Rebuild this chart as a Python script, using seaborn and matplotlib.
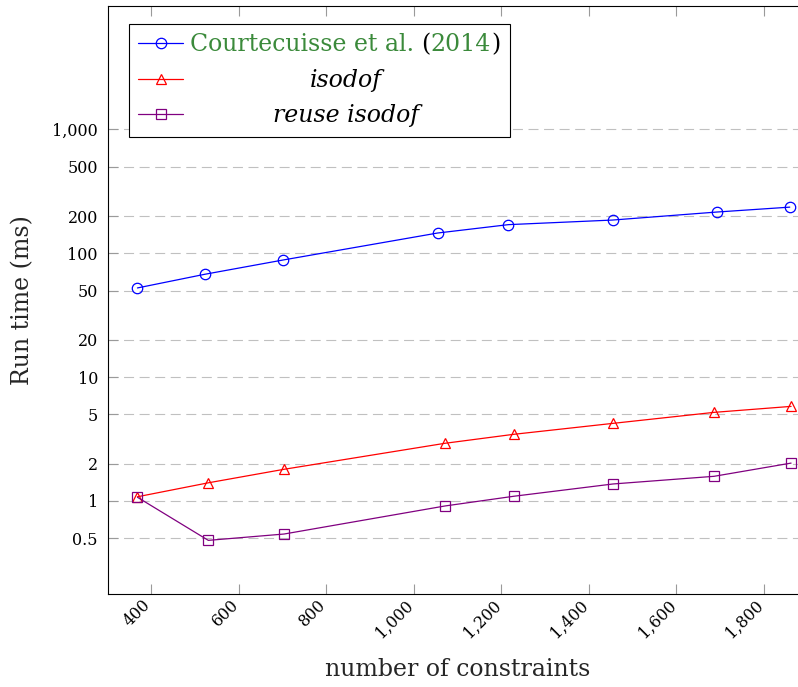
import matplotlib
matplotlib.use('Agg')
import matplotlib.pyplot as plt
import seaborn as sns
from matplotlib.ticker import FixedLocator, FixedFormatter, NullLocator

# values
x_courtecuisse = [368, 522, 701, 1054, 1216, 1454, 1692, 1859]
y_courtecuisse = [52.5, 67.7, 88.3, 145.8, 170.4, 185.6, 215.4, 236.0]
x_isodof = [368, 530, 703, 1071, 1228, 1455, 1686, 1862]
y_isodof = [1.08, 1.40, 1.80, 2.92, 3.45, 4.23, 5.19, 5.80]
y_reuse_isodof = [1.07, 0.48, 0.54, 0.91, 1.09, 1.37, 1.58, 2.02]

xticks = [400, 600, 800, 1000, 1200, 1400, 1600, 1800]
xticklabels = ['400', '600', '800', '1,000', '1,200', '1,400', '1,600', '1,800']
yticks = [0.5, 1, 2, 5, 10, 20, 50, 100, 200, 500, 1000]
yticklabels = ['0.5', '1', '2', '5', '10', '20', '50', '100', '200', '500', '1,000']

labels = ['Courtecuisse et al. (2014)', 'isodof', 'reuse isodof']
GREEN = '#3b8a3b'
PURPLE = '#800080'

sns.set_theme(style='ticks')
plt.rcParams['font.family'] = ['DejaVu Serif']

W, H = 798, 687
fig = plt.figure(figsize=(W / 100, H / 100), dpi=100)
# axes runs a little past the right edge, like the cropped original
ax = fig.add_axes([107.7 / W, (H - 594) / H, 700 / W, 588.3 / H])

sns.lineplot(x=x_courtecuisse, y=y_courtecuisse, ax=ax, color='blue', lw=0.9,
             marker='o', ms=7.5, mfc='none', mec='blue', mew=0.9, label=labels[0])
sns.lineplot(x=x_isodof, y=y_isodof, ax=ax, color='red', lw=0.9,
             marker='^', ms=7, mfc='none', mec='red', mew=0.9, label=labels[1])
sns.lineplot(x=x_isodof, y=y_reuse_isodof, ax=ax, color=PURPLE, lw=0.9,
             marker='s', ms=7.5, mfc='none', mec=PURPLE, mew=0.9, label=labels[2])

ax.set_yscale('log')
ax.set_xlim(300, 1900)
ax.set_ylim(0.177, 10000)

ax.xaxis.set_major_locator(FixedLocator(xticks))
ax.xaxis.set_major_formatter(FixedFormatter(xticklabels))
ax.xaxis.set_minor_locator(NullLocator())
ax.yaxis.set_major_locator(FixedLocator(yticks))
ax.yaxis.set_major_formatter(FixedFormatter(yticklabels))
ax.yaxis.set_minor_locator(NullLocator())

ax.tick_params(which='major', direction='in', length=7, width=0.8, color='#9a9a9a',
               top=True, right=True, labelsize=11.5, pad=7, labelcolor='black')
ax.tick_params(axis='x', pad=8.5)
for lab in ax.get_xticklabels():
    lab.set_rotation(45)
    lab.set_ha('right')
    lab.set_va('baseline')
    lab.set_rotation_mode('anchor')

ax.yaxis.grid(True, linestyle=(0, (9, 5)), color='#c0c0c0', linewidth=0.8)
ax.xaxis.grid(False)
ax.set_axisbelow(True)
for side in ['left', 'bottom', 'top', 'right']:
    ax.spines[side].set_color('black')
    ax.spines[side].set_linewidth(0.8)

ax.set_xlabel('number of constraints', fontsize=17)
ax.xaxis.label.set_va('center')
ax.xaxis.set_label_coords(0.5, -(670 - 594) / 588.3)
ax.set_ylabel('Run time (ms)', fontsize=17)
ax.yaxis.label.set_va('center')
ax.yaxis.set_label_coords(-(107.7 - 23) / 700, 0.5)

leg = ax.legend(loc='upper left', bbox_to_anchor=((129 - 107.7) / 700, (594 - 24) / 588.3),
                borderaxespad=0, frameon=True, fancybox=False, framealpha=1,
                edgecolor='black', handlelength=1.9, handletextpad=0.3,
                borderpad=0.4, labelspacing=0.53,
                prop={'family': 'DejaVu Serif', 'size': 17})
leg.get_frame().set_linewidth(0.8)
leg_texts = leg.get_texts()
leg_texts[1].set_fontstyle('italic')
leg_texts[2].set_fontstyle('italic')

# centre the legend labels in their column, and colour the citation
fig.canvas.draw()
boxes = [t.get_window_extent() for t in leg_texts]
col_mid = (min(b.x0 for b in boxes) + max(b.x1 for b in boxes)) / 2
for t in leg_texts:
    t.set_visible(False)

b0 = boxes[0]
piece = fig.text(b0.x0 / W, b0.y0 / H, 'Courtecuisse et al.', color=GREEN,
                 fontsize=17, va='bottom', ha='left')
for s, c, dx in [('(', 'black', 4.5), ('2014', GREEN, 0.3), (')', 'black', 0.3)]:
    piece = ax.annotate(s, xy=(1, 0), xycoords=piece, xytext=(dx, 0),
                        textcoords='offset points', color=c, fontsize=17,
                        va='bottom', ha='left', zorder=10)
for t, b in zip(leg_texts[1:], boxes[1:]):
    fig.text(col_mid / W, b.y0 / H, t.get_text(), fontsize=17, style='italic',
             ha='center', va='bottom', color='black')

fig.savefig('out.png', dpi=100)
